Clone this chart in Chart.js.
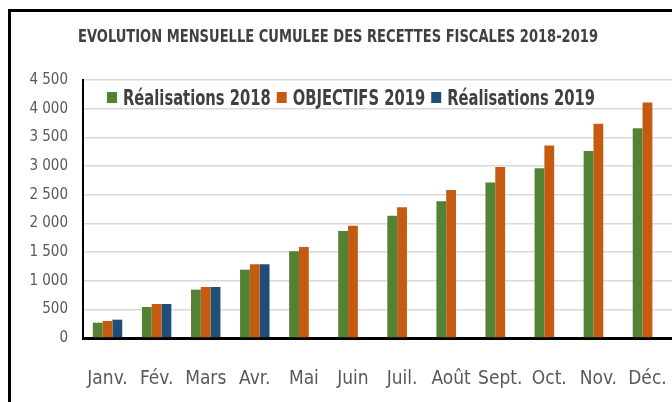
<!DOCTYPE html>
<html>
<head>
<meta charset="utf-8">
<script src="https://cdn.jsdelivr.net/npm/chart.js@4"></script>
<style>
  html, body { margin: 0; padding: 0; background: #fff; overflow: hidden; }
  #wrap { position: relative; width: 672px; height: 402px; overflow: hidden; }
  canvas { display: block; }
  .edge { position: absolute; background: #000; }
</style>
</head>
<body>
<div id="wrap">
  <canvas id="myChart" width="672" height="402"></canvas>
  <div class="edge" style="left:8px; top:9px; width:664px; height:3px;"></div>
  <div class="edge" style="left:8px; top:9px; width:3px; height:393px;"></div>
</div>
<script>
// Data
const months = ["Janv.", "Fév.", "Mars", "Avr.", "Mai", "Juin", "Juil.", "Août", "Sept.", "Oct.", "Nov.", "Déc."];
const real2018 = [267, 541, 843, 1192, 1513, 1867, 2134, 2386, 2711, 2961, 3263, 3660];
const obj2019 = [297, 593, 890, 1286, 1588, 1960, 2281, 2583, 2984, 3356, 3735, 4106];
const real2019 = [320, 593, 890, 1286, null, null, null, null, null, null, null, null];
const yTicks = [0, 500, 1000, 1500, 2000, 2500, 3000, 3500, 4000, 4500];

const titleText = "EVOLUTION MENSUELLE CUMULEE DES RECETTES FISCALES 2018-2019";
const FONT = "'DejaVu Sans Condensed', 'Liberation Sans', sans-serif";

// format 4500 -> "4 500"
function fmt(v) {
  return String(v).replace(/\B(?=(\d{3})+(?!\d))/g, " ");
}

// condensed text helper (the original uses a narrow font)
function narrowText(ctx, text, x, y, sx) {
  ctx.save();
  ctx.translate(x, y);
  ctx.scale(sx, 1);
  ctx.fillText(text, 0, 0);
  ctx.restore();
  return ctx.measureText(text).width * sx;
}

// title on top + legend inside the plot, between the 4500 and 4000 grid lines
const headerLegend = {
  id: "headerLegend",
  afterDraw(chart) {
    const ctx = chart.ctx;
    ctx.save();
    ctx.textBaseline = "alphabetic";

    ctx.font = "bold 17px " + FONT;
    ctx.fillStyle = "#404040";
    const tw = ctx.measureText(titleText).width;
    const tsx = 520 / tw;
    narrowText(ctx, titleText, 78, 42, tsx);

    ctx.font = "bold 21px " + FONT;
    let x = 107;
    const y = 97;
    chart.data.datasets.forEach(ds => {
      ctx.fillStyle = ds.backgroundColor;
      ctx.fillRect(x, y - 5, 10, 11);
      x += 16;
      ctx.fillStyle = "#404040";
      x += narrowText(ctx, ds.label, x, y + 8, 0.78) + 6;
    });
    ctx.restore();
  }
};

window.onload = () => {
  new Chart(document.getElementById("myChart"), {
    type: "bar",
    data: {
      labels: months,
      datasets: [
        { label: "Réalisations 2018", data: real2018, backgroundColor: "#548235" },
        { label: "OBJECTIFS 2019", data: obj2019, backgroundColor: "#C55A11" },
        { label: "Réalisations 2019", data: real2019, backgroundColor: "#1F4E79" }
      ]
    },
    options: {
      responsive: false,
      animation: false,
      layout: { padding: { left: 0, right: 0, top: 80, bottom: 0 } },
      datasets: { bar: { categoryPercentage: 0.6, barPercentage: 1.0 } },
      plugins: {
        legend: { display: false },
        tooltip: { enabled: false },
        title: { display: false }
      },
      scales: {
        x: {
          grid: { display: true, color: "rgba(0,0,0,0)", drawOnChartArea: false, drawTicks: true, tickLength: 28 },
          border: { display: true, color: "#000", width: 3 },
          ticks: { color: "#595959", font: { family: FONT, size: 19 }, padding: 2, maxRotation: 0, autoSkip: false },
          afterFit(scale) { scale.height = 64; }
        },
        y: {
          min: 0,
          max: 4500,
          afterBuildTicks(scale) { scale.ticks = yTicks.map(v => ({ value: v })); },
          grid: { color: "#d9d9d9", lineWidth: 1.5, drawTicks: false },
          border: { display: true, color: "#000", width: 2 },
          ticks: { color: "#595959", font: { family: FONT, size: 15 }, padding: 15, callback: v => fmt(v) },
          afterFit(scale) { scale.width = 83; }
        }
      }
    },
    plugins: [headerLegend]
  });
};
</script>
</body>
</html>
